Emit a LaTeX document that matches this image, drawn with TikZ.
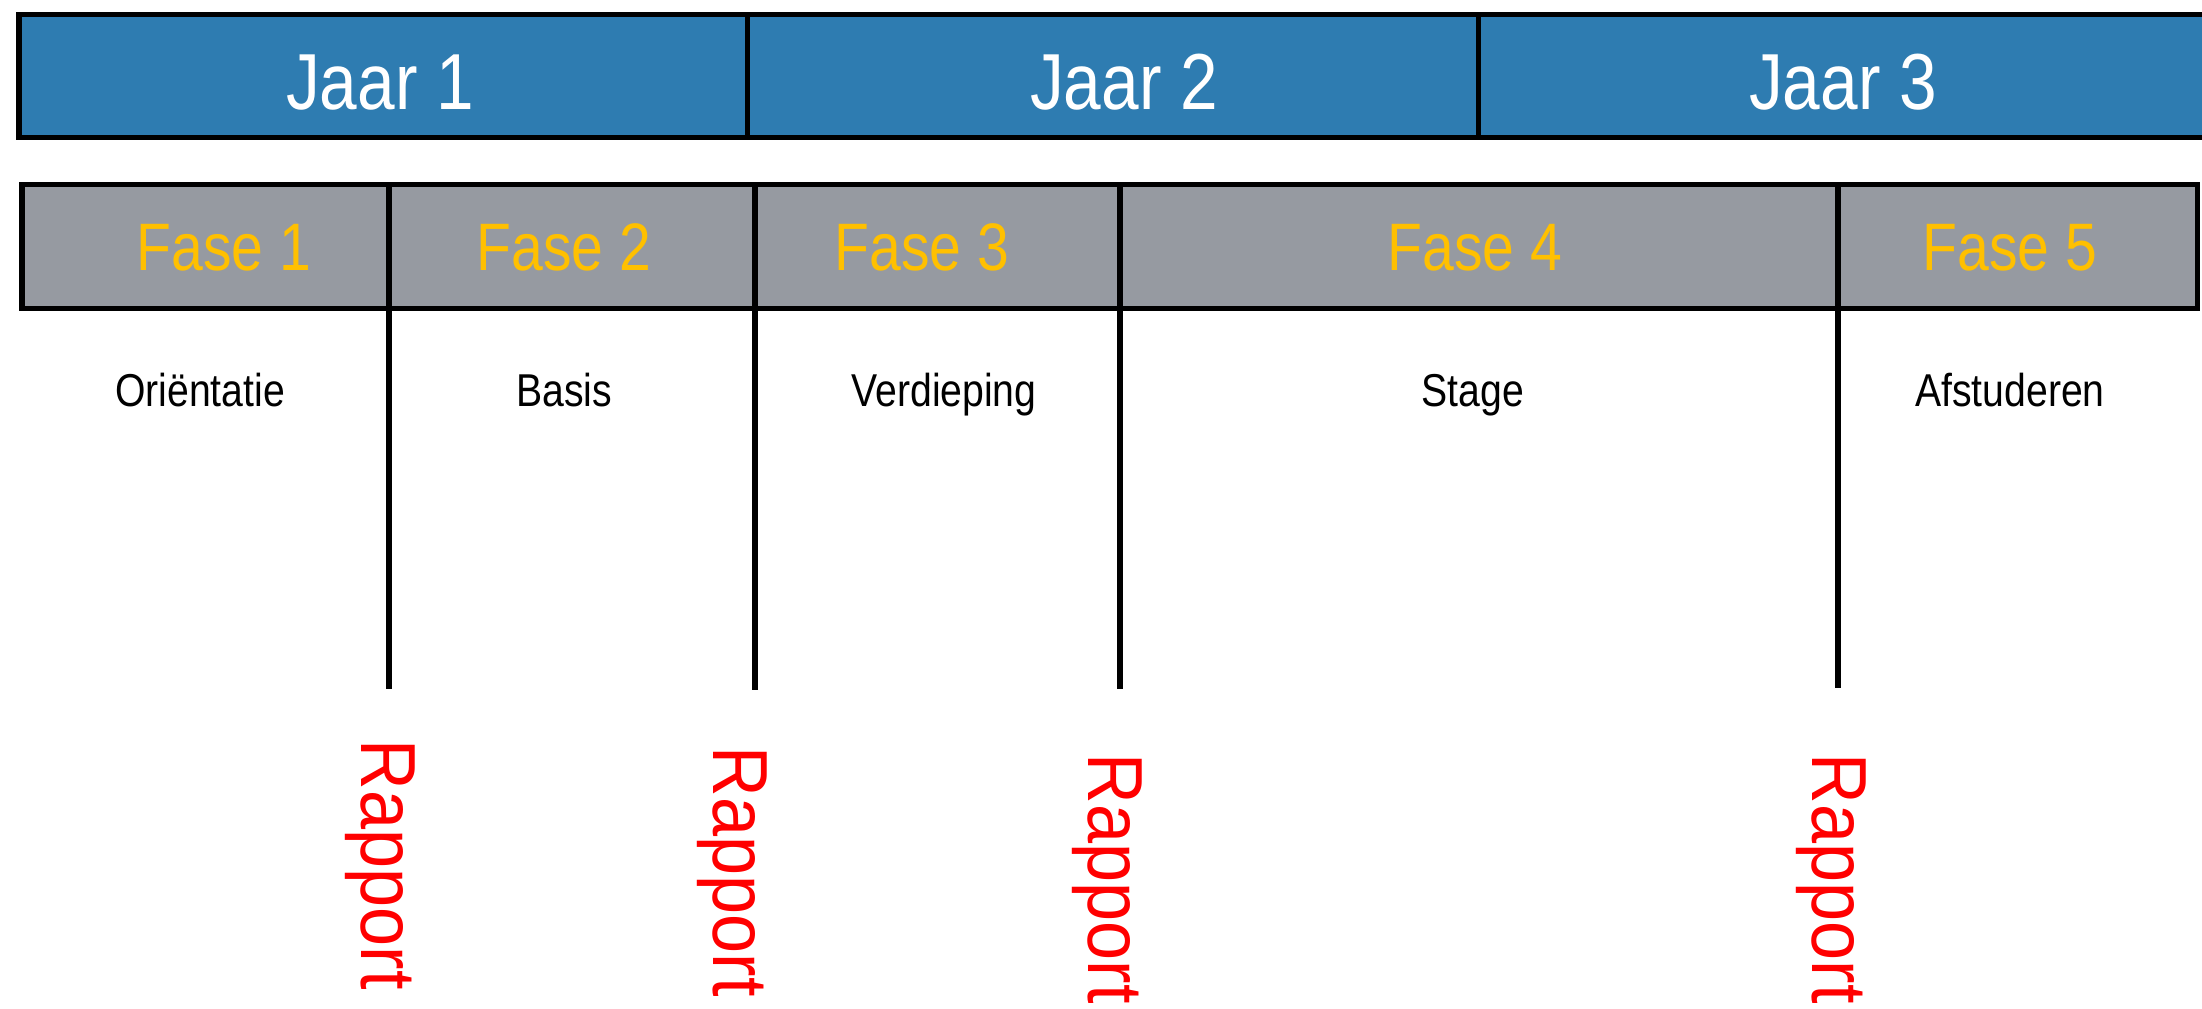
\documentclass[tikz,border=0pt]{standalone}
\usepackage{fontspec}
\setmainfont{Liberation Sans}[FakeStretch=0.85]
\newfontfamily\rapportfont{Liberation Sans}[FakeStretch=0.9]
\usepackage{tikz}
\definecolor{jaarblue}{RGB}{46,124,177}
\definecolor{fasegray}{RGB}{150,154,161}
\definecolor{faseyellow}{RGB}{255,192,0}

\begin{document}
\begin{tikzpicture}[x=0.01cm,y=-0.01cm,
  jaar/.style={anchor=base,text=white,font=\fontsize{22.6}{26}\selectfont},
  fase/.style={anchor=base,text=faseyellow,font=\fontsize{19.1}{22}\selectfont},
  omschrijving/.style={anchor=base,font=\fontsize{13.1}{16}\selectfont},
  rapport/.style={anchor=base west,rotate=-90,inner sep=0pt,text=red,font=\rapportfont\fontsize{22.2}{26}\selectfont},
  balk/.style={line width=0.05cm},
  grens/.style={line width=0.055cm}]
\useasboundingbox (0,0) rectangle (2202,1009);
\clip (0,0) rectangle (2202,1009);
% jaren
\draw [balk,fill=jaarblue] (19,14.5) rectangle (2240,137.5);
\draw [balk] (747,14.5) -- (747,137.5);
\draw [balk] (1478,14.5) -- (1478,137.5);
\node [jaar] (j1) at (380,110) {Jaar 1};
\node [jaar] (j2) at (1124,110) {Jaar 2};
\node [jaar] (j3) at (1843,110) {Jaar 3};
% fases
\draw [balk,fill=fasegray] (22,184.5) rectangle (2197,308.5);
\coordinate (t1) at (389,184.5);
\coordinate (t2) at (755,184.5);
\coordinate (t3) at (1120,184.5);
\coordinate (t4) at (1838,184.5);
\coordinate (e1) at (389,689);
\coordinate (e2) at (755,690);
\coordinate (e3) at (1120,689);
\coordinate (e4) at (1838,688);
\draw [grens] (t1) -- (e1);
\draw [grens] (t2) -- (e2);
\draw [grens] (t3) -- (e3);
\draw [grens] (t4) -- (e4);
\node [fase] (f1) at (224,270) {Fase 1};
\node [fase] (f2) at (564,270) {Fase 2};
\node [fase] (f3) at (922,270) {Fase 3};
\node [fase] (f4) at (1475,270) {Fase 4};
\node [fase] (f5) at (2010,270) {Fase 5};
\node [omschrijving] (o1) at (200,406) {Oriëntatie};
\node [omschrijving] (o2) at (564,406) {Basis};
\node [omschrijving] (o3) at (944,406) {Verdieping};
\node [omschrijving] (o4) at (1473,406) {Stage};
\node [omschrijving] (o5) at (2010,406) {Afstuderen};
% rapporten
\node [rapport] (r1) at (361,739) {Rapport};
\node [rapport] (r2) at (713,746) {Rapport};
\node [rapport] (r3) at (1088,753) {Rapport};
\node [rapport] (r4) at (1812,753) {Rapport};
\end{tikzpicture}
\end{document}
